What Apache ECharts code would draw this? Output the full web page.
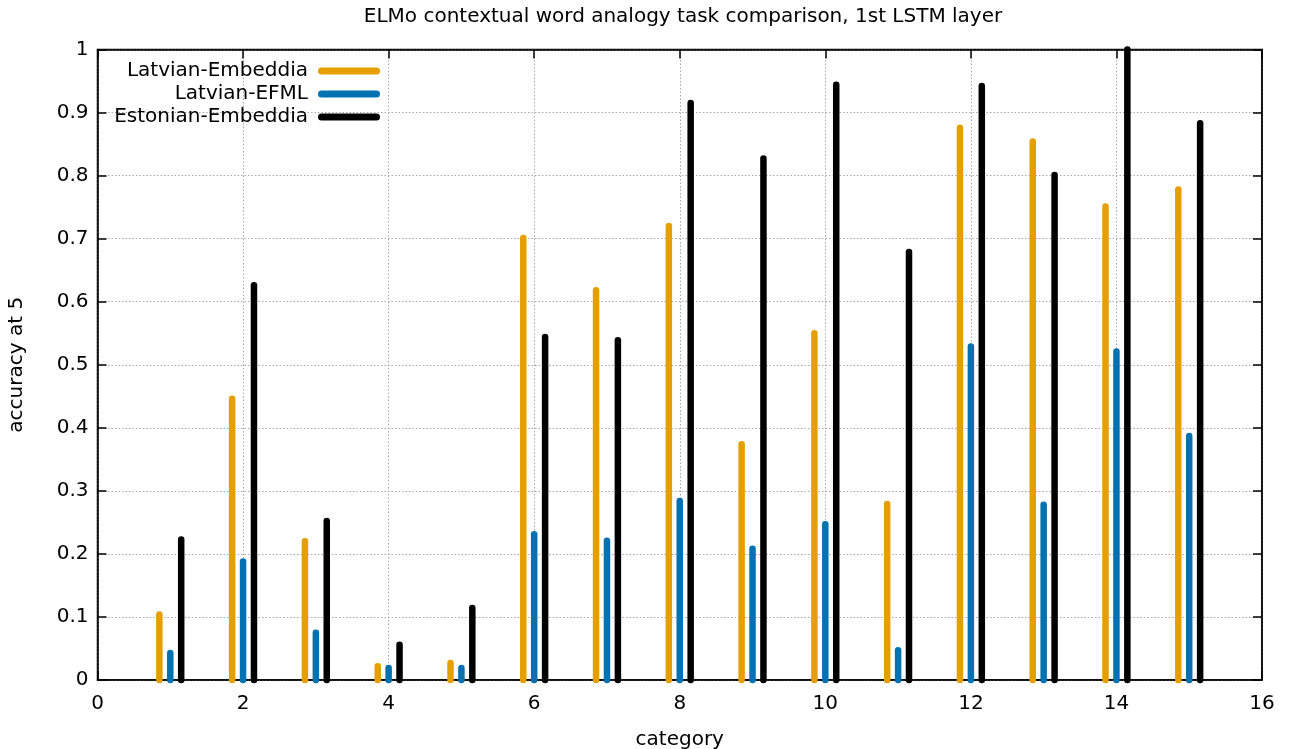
<!DOCTYPE html>
<html>
<head>
<meta charset="utf-8">
<script src="https://cdn.jsdelivr.net/npm/echarts@6/dist/echarts.min.js"></script>
<style>
html,body{margin:0;padding:0;background:#fff;}
#chart{width:1291px;height:749px;}
</style>
</head>
<body>
<div id="chart"></div>
<script>
const categories = [1,2,3,4,5,6,7,8,9,10,11,12,13,14,15];
const seriesNames = ['Latvian-Embeddia','Latvian-EFML','Estonian-Embeddia'];
const latvianEmbeddia = [0.104,0.446,0.220,0.022,0.027,0.701,0.618,0.720,0.374,0.550,0.279,0.876,0.854,0.751,0.778];
const latvianEFML     = [0.043,0.188,0.075,0.019,0.019,0.231,0.221,0.284,0.208,0.247,0.047,0.529,0.278,0.521,0.387];
const estonianEmbeddia= [0.223,0.626,0.252,0.056,0.114,0.544,0.539,0.915,0.827,0.944,0.679,0.942,0.801,1.000,0.883];
const yTicks = [0,0.1,0.2,0.3,0.4,0.5,0.6,0.7,0.8,0.9,1];
const xTicks = [0,2,4,6,8,10,12,14,16];

const colors = ['#E69F00','#0072B2','#000000'];
const offsets = [-0.15, 0, 0.15];
const FONT = 'DejaVu Sans';

function makeSeries(name, values, idx){
  return {
    name: name,
    type: 'custom',
    clip: false,
    xAxisIndex: 0, yAxisIndex: 0,
    itemStyle: {color: colors[idx]},
    data: categories.map((c,i)=>[c, values[i]]),
    renderItem: function(params, api){
      const x = api.value(0) + offsets[idx];
      const p0 = api.coord([x, 0]);
      const p1 = api.coord([x, api.value(1)]);
      return {
        type: 'line',
        shape: {x1:p0[0], y1:p0[1], x2:p1[0], y2:p1[1]},
        style: {stroke: colors[idx], lineWidth: 6.5, lineCap: 'round'}
      };
    }
  };
}

const axisLine = () => ({show:true, onZero:false, lineStyle:{color:'#000', width:1.5}});
const tick = () => ({show:true, inside:true, length:9, lineStyle:{color:'#000', width:1.5}});
const split = () => ({show:true, lineStyle:{color:'#a8a8a8', width:1, type:[1.5,2]}});
const xMin = xTicks[0], xMax = xTicks[xTicks.length-1];
const yMin = yTicks[0], yMax = yTicks[yTicks.length-1];

const chart = echarts.init(document.getElementById('chart'), null, {renderer:'canvas'});
chart.setOption({
  animation: false,
  color: colors,
  title: {
    text: 'ELMo contextual word analogy task comparison, 1st LSTM layer',
    left: 678, top: 2, textAlign: 'center',
    textStyle: {fontFamily: FONT, fontSize: 20, fontWeight: 'normal', color: '#000'}
  },
  legend: {
    orient: 'vertical', align: 'right',
    right: 906, top: 56,
    itemWidth: 62, itemHeight: 7, itemGap: 3,
    icon: 'path://M3.5,0 L58.5,0 A3.5,3.5 0 0 1 58.5,7 L3.5,7 A3.5,3.5 0 0 1 3.5,0 Z',
    textStyle: {fontFamily: FONT, fontSize: 20, color: '#000', lineHeight: 20, padding: [0,5,0,0]},
    data: seriesNames
  },
  grid: {left: 97.5, right: 29, top: 49.5, bottom: 69, containLabel: false, outerBoundsMode: 'none',
         show: true, borderColor: '#000', borderWidth: 1.5, backgroundColor: 'transparent'},
  xAxis: [{
    type: 'value', position: 'bottom', min: xMin, max: xMax, interval: 2,
    name: 'category', nameLocation: 'middle', nameGap: 50,
    nameTextStyle: {fontFamily: FONT, fontSize: 20, color: '#000'},
    axisLine: axisLine(), axisTick: tick(), splitLine: split(),
    axisLabel: {fontFamily: FONT, fontSize: 20, color: '#000', margin: 14}
  },{
    type: 'value', position: 'top', min: xMin, max: xMax, interval: 2,
    axisLine: axisLine(), axisTick: tick(), splitLine: {show:false}, axisLabel: {show:false}
  }],
  yAxis: [{
    type: 'value', position: 'left', min: yMin, max: yMax, interval: 0.1,
    name: 'accuracy at 5', nameLocation: 'middle', nameGap: 71,
    nameTextStyle: {fontFamily: FONT, fontSize: 20, color: '#000'},
    axisLine: axisLine(), axisTick: tick(), splitLine: split(),
    axisLabel: {fontFamily: FONT, fontSize: 20, color: '#000', margin: 9,
      formatter: v => String(+v.toFixed(1))}
  },{
    type: 'value', position: 'right', min: yMin, max: yMax, interval: 0.1,
    axisLine: axisLine(), axisTick: tick(), splitLine: {show:false}, axisLabel: {show:false}
  }],
  series: [
    makeSeries(seriesNames[0], latvianEmbeddia, 0),
    makeSeries(seriesNames[1], latvianEFML, 1),
    makeSeries(seriesNames[2], estonianEmbeddia, 2)
  ]
});
</script>
</body>
</html>
